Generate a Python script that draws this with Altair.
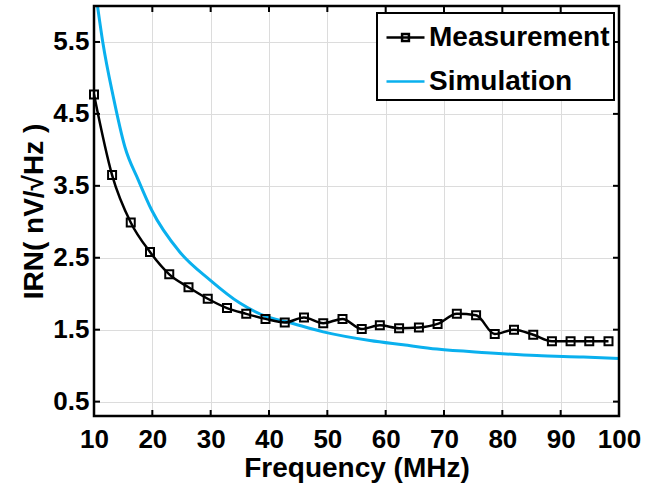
import altair as alt
import pandas as pd

# ---------------- data ----------------
meas_freq = [10.0, 13.1, 16.3, 19.6, 22.9, 26.2, 29.5, 32.8, 36.1, 39.4, 42.7, 46.0, 49.3, 52.6,
             55.9, 59.0, 62.3, 65.7, 68.9, 72.2, 75.5, 78.7, 82.0, 85.3, 88.5, 91.7, 94.9, 98.2]
meas_irn = [4.77, 3.65, 2.99, 2.58, 2.27, 2.09, 1.93, 1.80, 1.72, 1.65, 1.60, 1.67, 1.59, 1.65,
            1.51, 1.56, 1.52, 1.53, 1.58, 1.72, 1.70, 1.44, 1.50, 1.43, 1.34, 1.34, 1.34, 1.34]

sim_freq = [10.0, 10.6, 11.5, 13.3, 15.3, 17.6, 19.9, 24.7, 29.9, 35.0, 39.6, 43.0, 49.3, 57.3,
            63.0, 68.8, 77.3, 85.9, 93.9, 100.0]
sim_irn = [6.35, 6.0, 5.5, 4.74, 4.04, 3.58, 3.16, 2.58, 2.19, 1.87, 1.68, 1.61, 1.47, 1.35,
           1.29, 1.23, 1.18, 1.14, 1.12, 1.10]

x_ticks = [10, 20, 30, 40, 50, 60, 70, 80, 90, 100]
y_ticks = [0.5, 1.5, 2.5, 3.5, 4.5, 5.5]

series_names = ["Measurement", "Simulation"]
series_colors = ["#000000", "#0AB0EE"]
legend_paths = ["M-1,0H1M-0.18,-0.18H0.18V0.18H-0.18Z", "M-1,0H1"]

# ---------------- layout ----------------
W, H = 525, 410
FONT = "Liberation Sans"

meas = pd.DataFrame({"freq": meas_freq, "irn": meas_irn})
sim = pd.DataFrame({"freq": sim_freq, "irn": sim_irn})
leg = pd.DataFrame({"series": series_names,
                    "freq": [meas_freq[0], sim_freq[-1]],
                    "irn": [meas_irn[0], sim_irn[-1]]})
xt = pd.DataFrame({"freq": x_ticks})
yt = pd.DataFrame({"irn": y_ticks})

xscale = alt.Scale(domain=[10, 100], nice=False, zero=False)
yscale = alt.Scale(domain=[0.3, 6.0], nice=False, zero=False)

xaxis = alt.Axis(values=x_ticks, title="Frequency (MHz)", grid=True, ticks=False, domain=False,
                 labelFlush=False, labelOverlap=False, labelPadding=10, titlePadding=2)
yaxis = alt.Axis(values=y_ticks, format=".1f", title="IRN( nV/√Hz )", grid=True, ticks=False,
                 domain=False, labelFlush=False, labelOverlap=False, labelPadding=5, titlePadding=4)

X = alt.X("freq:Q", scale=xscale, axis=xaxis)
Y = alt.Y("irn:Q", scale=yscale, axis=yaxis)

sim_line = alt.Chart(sim).mark_line(interpolate="monotone", color=series_colors[1], strokeWidth=3,
                                    clip=True).encode(x=X, y=Y)

meas_line = alt.Chart(meas).mark_line(interpolate="monotone", color=series_colors[0],
                                      strokeWidth=2.5, clip=True).encode(x=X, y=Y)

meas_pts = alt.Chart(meas).mark_point(shape="square", filled=False, size=64, strokeWidth=2,
                                      color=series_colors[0], opacity=1).encode(x=X, y=Y)

LEG = alt.Legend(title=None, orient="none", legendX=283, legendY=7, direction="vertical",
                 fillColor="white", strokeColor="black", padding=4, rowPadding=9,
                 symbolSize=1444, symbolStrokeWidth=2.5, symbolOffset=4, symbolOpacity=1,
                 symbolFillColor="transparent",
                 labelFont=FONT, labelFontSize=28, labelFontWeight="bold", labelColor="black",
                 labelOffset=3, labelLimit=400)

legend_layer = alt.Chart(leg).mark_point(filled=False, opacity=0, strokeWidth=2.5).encode(
    x=X, y=Y,
    color=alt.Color("series:N", scale=alt.Scale(domain=series_names, range=series_colors), legend=LEG),
    shape=alt.Shape("series:N", scale=alt.Scale(domain=series_names, range=legend_paths), legend=LEG),
)

TL = 6
tick_bottom = alt.Chart(xt).mark_rule(color="black", strokeWidth=2).encode(
    x=X, y=alt.value(H), y2=alt.value(H - TL))
tick_top = alt.Chart(xt).mark_rule(color="black", strokeWidth=2).encode(
    x=X, y=alt.value(0), y2=alt.value(TL))
tick_left = alt.Chart(yt).mark_rule(color="black", strokeWidth=2).encode(
    y=Y, x=alt.value(0), x2=alt.value(TL))
tick_right = alt.Chart(yt).mark_rule(color="black", strokeWidth=2).encode(
    y=Y, x=alt.value(W), x2=alt.value(W - TL))

frame = alt.Chart(alt.Data(values=[{}])).mark_rect(
    fill="transparent", stroke="black", strokeWidth=2.5).encode(
    x=alt.value(0), x2=alt.value(W), y=alt.value(0), y2=alt.value(H))

chart = alt.layer(
    sim_line, meas_line, meas_pts, legend_layer,
    tick_bottom, tick_top, tick_left, tick_right, frame,
).properties(
    width=W, height=H,
    autosize="none",
    padding={"left": 94, "top": 6, "right": 53, "bottom": 69},
    background="white",
).configure_view(
    stroke=None
).configure_axis(
    labelFont=FONT, labelFontSize=26, labelFontWeight="bold", labelColor="black",
    titleFont=FONT, titleFontSize=28, titleFontWeight="bold", titleColor="black",
    gridColor="#dcdcdc", gridWidth=1,
).configure_legend(
    strokeWidth=2
)

chart.save("out.html", embed_options={"renderer": "svg", "actions": False})
